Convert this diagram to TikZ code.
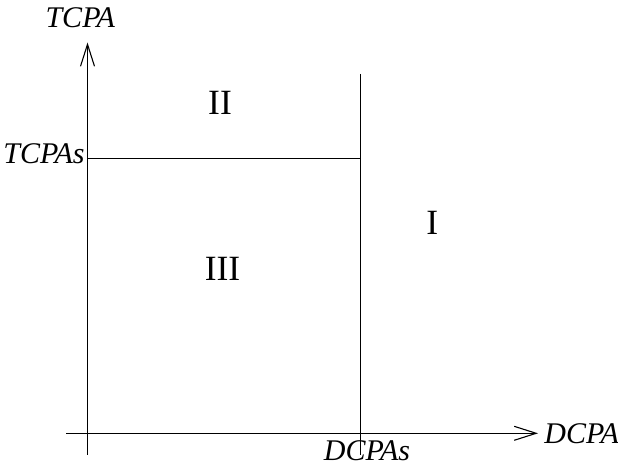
\documentclass[tikz,border=0pt]{standalone}
\usepackage{fontspec}
\setmainfont{Liberation Serif}
\usetikzlibrary{arrows.meta}
\begin{document}
\begin{tikzpicture}[x=1pt,y=-1pt,
  axis/.style={line width=1.1pt,-{Straight Barb[length=22pt,width=14pt,line width=1.1pt]}},
  bound/.style={line width=1.1pt},
  axlabel/.style={inner sep=0pt,anchor=base,font=\fontsize{30}{30}\selectfont\itshape},
  region/.style={inner sep=0pt,anchor=base,font=\fontsize{35.5}{36}\selectfont}]
  \useasboundingbox (0,0) rectangle (618,465);
  % axes
  \coordinate (xs) at (66,433.3);
  \coordinate (xe) at (538,433.3);
  \coordinate (ys) at (87.5,454.5);
  \coordinate (ye) at (87.5,42.5);
  % boundaries of the regions
  \coordinate (vt) at (360.3,74);
  \coordinate (vb) at (360.3,454.5);
  \coordinate (hl) at (87.5,158.6);
  \coordinate (hr) at (360.3,158.6);
  \draw[axis] (xs) -- (xe);
  \draw[axis] (ys) -- (ye);
  \draw[bound] (vt) -- (vb);
  \draw[bound] (hl) -- (hr);
  % axis labels
  \node[axlabel] (tcpa) at (80.3,27.3) {TCPA};
  \node[axlabel] (tcpas) at (44,164) {TCPAs};
  \node[axlabel] (dcpa) at (581.7,443.3) {DCPA};
  \node[axlabel] (dcpas) at (367,460) {DCPAs};
  % region labels
  \node[region] (r2) at (220,115) {II};
  \node[region] (r3) at (222.5,280) {III};
  \node[region] (r1) at (432.3,234) {I};
\end{tikzpicture}
\end{document}
